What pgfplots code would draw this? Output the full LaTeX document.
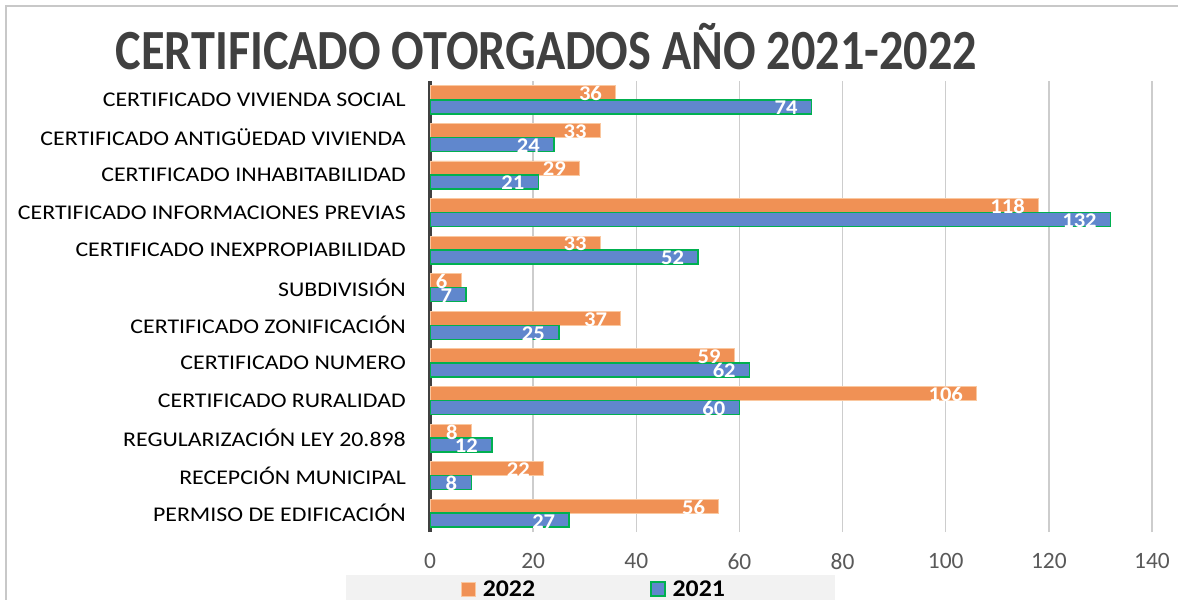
\documentclass[border=0pt]{standalone}
\usepackage{pgfplots}
\pgfplotsset{compat=1.18}
\usepackage{fontspec}
\setmainfont{Carlito}
\newfontfamily\titlefont{Carlito}[FakeStretch=0.85]
\newfontfamily\catfont{Carlito}[FakeStretch=1.14]
\newfontfamily\legfont{Carlito}[FakeStretch=1.08]
\definecolor{c22}{RGB}{240,145,85}
\definecolor{c22edge}{RGB}{250,200,160}
\definecolor{c21}{RGB}{96,135,205}
\definecolor{c21edge}{RGB}{0,176,80}
\definecolor{titlegray}{RGB}{64,64,64}
\definecolor{tickgray}{RGB}{89,89,89}
\definecolor{gridgray}{RGB}{205,205,205}
\definecolor{framegray}{RGB}{200,200,200}
\definecolor{leggray}{RGB}{242,242,242}
\begin{document}
\begin{tikzpicture}
\useasboundingbox (0bp,0bp) rectangle (1178bp,600bp);
\draw[framegray,line width=1.5bp] (6bp,-20bp) -- (6bp,594bp) -- (1200bp,594bp);
\fill[leggray] (346bp,-10bp) rectangle (835bp,25bp);
\node[font=\titlefont\bfseries\fontsize{57}{57}\selectfont,text=titlegray,anchor=base,inner sep=0pt] at (546.5bp,530bp) {CERTIFICADO OTORGADOS AÑO 2021-2022};
\begin{axis}[at={(430bp,68bp)},anchor=south west,scale only axis,
  width=722bp,height=451bp,
  xbar,bar width=14bp,
  xmin=0,xmax=140,xtick={0,20,...,140},
  ymin=-0.5,ymax=11.5,ytick={0,...,11},
  yticklabels={PERMISO DE EDIFICACIÓN,RECEPCIÓN MUNICIPAL,REGULARIZACIÓN LEY 20.898,CERTIFICADO RURALIDAD,CERTIFICADO NUMERO,CERTIFICADO ZONIFICACIÓN,SUBDIVISIÓN,CERTIFICADO INEXPROPIABILIDAD,CERTIFICADO INFORMACIONES PREVIAS,CERTIFICADO INHABITABILIDAD,CERTIFICADO ANTIGÜEDAD VIVIENDA,CERTIFICADO VIVIENDA SOCIAL},
  major tick length=0pt,
  axis x line*=bottom,x axis line style={draw=none},
  axis y line*=left,y axis line style={line width=3bp,titlegray,-},
  xmajorgrids,grid style={gridgray,line width=1.3bp},
  /pgf/number format/assume math mode=true,
  xticklabel style={font=\fontsize{23.5}{23.5}\selectfont,text=tickgray,anchor=north,inner sep=0pt,yshift=-21bp},
  yticklabel style={font=\catfont\fontsize{21}{21}\selectfont,text=black,anchor=east,inner sep=0pt,xshift=-24bp},
  point meta=x,
  nodes near coords,
  every node near coord/.append style={anchor=east,xshift=-10bp,yshift=-1bp,text=white,font=\legfont\bfseries\fontsize{21}{21}\selectfont},
  legend columns=2,
  legend style={at={(0.2285,-0.1264)},xshift=-1bp,anchor=center,draw=none,fill=none,
    font=\legfont\bfseries\fontsize{24}{24}\selectfont,
    /tikz/every even column/.append style={column sep=113bp}},
  legend image code/.code={\draw[#1] (0bp,-7bp) rectangle (14bp,7bp); \path (19bp,0bp);},
]
\addplot[fill=c22,draw=c22edge,line width=0.8bp,bar shift=7bp] coordinates {
(56,0) (22,1) (8,2) (106,3) (59,4) (37,5) (6,6) (33,7) (118,8) (29,9) (33,10) (36,11)};
\addlegendentry{2022}
\addplot[fill=c21,draw=c21edge,line width=1.5bp,bar shift=-7bp] coordinates {
(27,0) (8,1) (12,2) (60,3) (62,4) (25,5) (7,6) (52,7) (132,8) (21,9) (24,10) (74,11)};
\addlegendentry{2021}
\end{axis}
\end{tikzpicture}
\end{document}
